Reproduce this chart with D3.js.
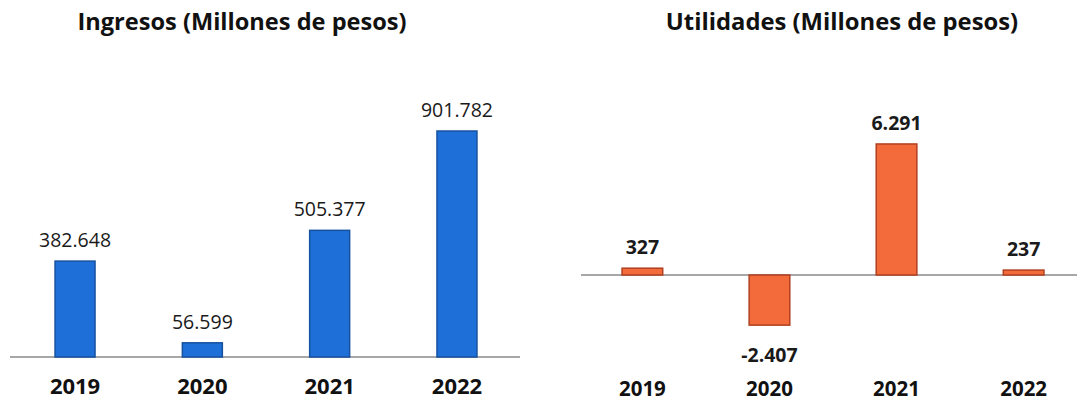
<!DOCTYPE html>
<html><head><meta charset="utf-8">
<script src="https://cdn.jsdelivr.net/npm/d3@7"></script>
<style>
html,body{margin:0;padding:0;background:#ffffff;}
svg{display:block;font-family:"Open Sans",Lato,sans-serif;}
</style></head>
<body>
<svg id="c" width="1077" height="401"></svg>
<script>
const years = ["2019","2020","2021","2022"];
const ingresos = [382648, 56599, 505377, 901782];
const utilidades = [327, -2407, 6291, 237];
const titleIngresos = "Ingresos (Millones de pesos)";
const titleUtilidades = "Utilidades (Millones de pesos)";

const es = d3.formatLocale({decimal: ",", thousands: ".", grouping: [3], currency: ["$", ""], minus: "-"});
const fmt = es.format(",d");

const svg = d3.select("#c");

function panel(opts) {
  const g = svg.append("g");
  const x = d3.scaleBand().domain(years).range(opts.xRange)
    .paddingInner(opts.padIn).paddingOuter(opts.padOut);
  const y = d3.scaleLinear().domain(opts.yDomain).range(opts.yRange);

  g.append("text").attr("x", opts.titleX).attr("y", 30)
    .attr("text-anchor", "middle").attr("font-weight", 700)
    .attr("font-size", opts.titleSize).attr("fill", "#111").text(opts.title);

  g.append("line").attr("x1", opts.lineX[0]).attr("x2", opts.lineX[1])
    .attr("y1", y(0)).attr("y2", y(0))
    .attr("stroke", "#8a8a8a").attr("stroke-width", 1.5);

  g.selectAll("rect.bar").data(opts.values).join("rect").attr("class", "bar")
    .attr("x", (d, i) => x(years[i]))
    .attr("width", x.bandwidth())
    .attr("y", d => y(Math.max(0, d)))
    .attr("height", d => Math.abs(y(d) - y(0)))
    .attr("fill", opts.fill).attr("stroke", opts.stroke).attr("stroke-width", 1.5);

  g.selectAll("text.val").data(opts.values).join("text").attr("class", "val")
    .attr("x", (d, i) => x(years[i]) + x.bandwidth() / 2)
    .attr("y", d => d >= 0 ? y(d) - 14 : y(d) + 37)
    .attr("text-anchor", "middle")
    .attr("font-size", opts.valSize).attr("font-weight", opts.valWeight)
    .attr("fill", "#1a1a1a").text(d => fmt(d));

  const ax = g.append("g").attr("transform", `translate(0,${opts.axisY})`)
    .call(d3.axisBottom(x).tickSize(0).tickPadding(0));
  ax.select(".domain").remove();
  ax.selectAll("text").attr("font-size", opts.yearSize).attr("font-weight", 700)
    .attr("fill", "#111").attr("font-family", "'Open Sans', Lato, sans-serif");
}

panel({
  title: titleIngresos, titleX: 242, titleSize: 23.6,
  values: ingresos, xRange: [11, 521], padIn: 0.686, padOut: 0.346,
  yDomain: [0, 1000000], yRange: [357, 106.4],
  lineX: [10, 520], fill: "#1e70d8", stroke: "#16519f",
  valSize: 19.5, valWeight: 400, yearSize: 22, axisY: 378
});

panel({
  title: titleUtilidades, titleX: 842, titleSize: 23.8,
  values: utilidades, xRange: [581, 1085], padIn: 0.68, padOut: 0.323,
  yDomain: [-3000, 7000], yRange: [337.5, 129.2],
  lineX: [581, 1077], fill: "#f36a3b", stroke: "#b0401f",
  valSize: 19.5, valWeight: 700, yearSize: 20.5, axisY: 381
});
</script>
</body></html>
